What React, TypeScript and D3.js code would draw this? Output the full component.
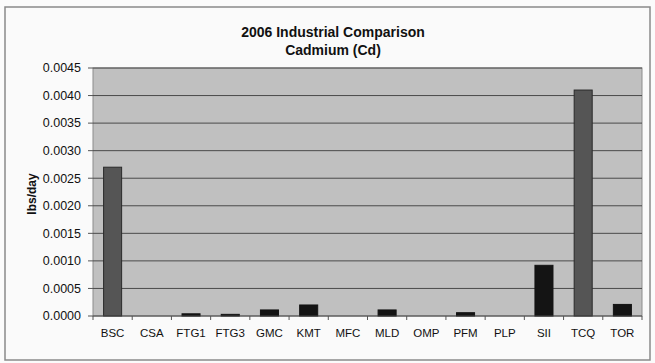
import React from "react";
import * as d3 from "d3";

const categories = ["BSC", "CSA", "FTG1", "FTG3", "GMC", "KMT", "MFC", "MLD", "OMP", "PFM", "PLP", "SII", "TCQ", "TOR"];
const values = [0.0027, 0, 0.00004, 0.00003, 0.00011, 0.0002, 0, 0.00011, 0, 0.00006, 0, 0.00092, 0.0041, 0.00021];
const highlighted = ["BSC", "TCQ"];
const yTicks = [0, 0.0005, 0.001, 0.0015, 0.002, 0.0025, 0.003, 0.0035, 0.004, 0.0045];
const titleLines = ["2006 Industrial Comparison", "Cadmium (Cd)"];
const yAxisTitle = "lbs/day";

export default function App() {
  const W = 655, H = 363;
  const left = 93, right = 642, top = 68, bottom = 316;
  const x = d3.scaleBand<string>().domain(categories).range([left, right]).paddingInner(0.54).paddingOuter(0.27);
  const xb = d3.scaleBand<string>().domain(categories).range([left, right]);
  const y = d3.scaleLinear().domain([0, 0.0045]).range([bottom, top]);
  const font = "Arial, 'Liberation Sans', sans-serif";
  return (
    <svg width={W} height={H} style={{ position: "absolute", left: 0, top: 0 }} fontFamily={font}>
      <rect x={0} y={0} width={W} height={H} fill="#fbfbfb" />
      <rect x={5} y={7} width={645} height={353} fill="#fafafa" stroke="#8a8a8a" strokeWidth={1.5} />
      {titleLines.map((t, i) => (
        <text key={t} x={333} y={37 + i * 18} textAnchor="middle" fontSize={14} fontWeight="bold" fill="#111">{t}</text>
      ))}
      <rect x={left} y={top} width={right - left} height={bottom - top} fill="#c0c0c0" stroke="#8c8c8c" strokeWidth={1} />
      {yTicks.map((t) => (
        <g key={t}>
          {t > 0 && <line x1={left} x2={right} y1={y(t)} y2={y(t)} stroke="#4a4a4a" strokeWidth={1} />}
          <line x1={left - 5} x2={left} y1={y(t)} y2={y(t)} stroke="#555" />
          <text x={81} y={y(t)} dy="0.35em" textAnchor="end" fontSize={12.5} fill="#111">{t.toFixed(4)}</text>
        </g>
      ))}
      <text transform={`translate(36,${(top + bottom) / 2 + 2}) rotate(-90)`} textAnchor="middle" fontSize={12} fontWeight="bold" fill="#111">{yAxisTitle}</text>
      {categories.map((c, i) => {
        const v = values[i];
        const hi = highlighted.includes(c);
        return (
          <rect key={c} x={x(c)} y={y(v)} width={x.bandwidth()} height={bottom - y(v)}
            fill={hi ? "#555555" : "#141414"} stroke={hi ? "#2a2a2a" : "#141414"} strokeWidth={1} />
        );
      })}
      <line x1={left} x2={right} y1={bottom} y2={bottom} stroke="#444" strokeWidth={1} />
      {categories.concat([""]).map((c, i) => {
        const xx = left + i * xb.step();
        return <line key={"t" + i} x1={xx} x2={xx} y1={bottom} y2={bottom + 4} stroke="#555" />;
      })}
      {categories.map((c) => (
        <text key={"l" + c} x={(xb(c) as number) + xb.bandwidth() / 2} y={337} textAnchor="middle" fontSize={11.5} fill="#111">{c}</text>
      ))}
    </svg>
  );
}
